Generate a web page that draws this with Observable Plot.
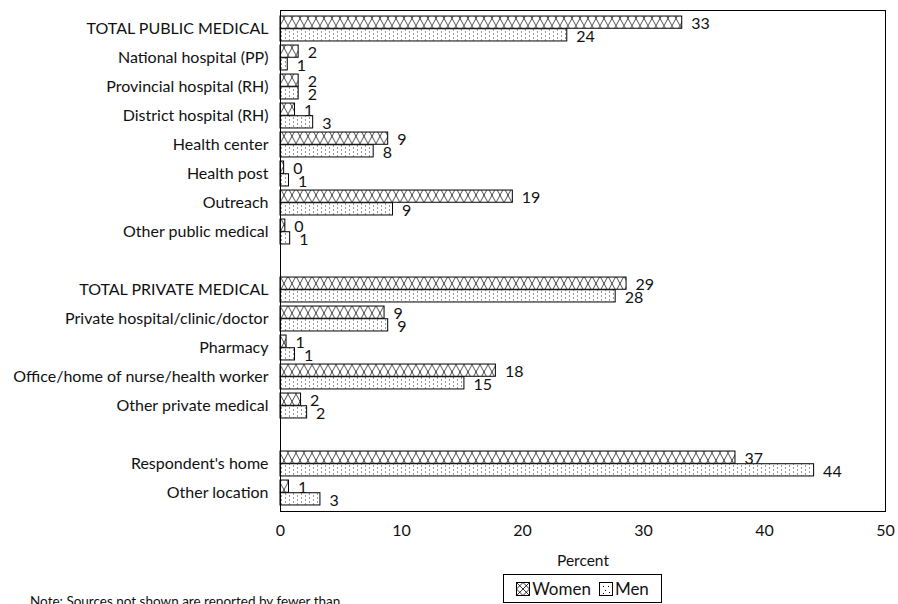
<!DOCTYPE html>
<html>
<head>
<meta charset="utf-8">
<script src="https://cdn.jsdelivr.net/npm/d3@7"></script>
<script src="https://cdn.jsdelivr.net/npm/@observablehq/plot@0.6"></script>
<style>
  html, body { margin: 0; padding: 0; background: #fff; overflow: hidden; }
  #wrap { position: relative; width: 898px; height: 604px; font-family: Lato, "Open Sans", sans-serif; color: #111; }
  #chart svg { display: block; }
  #xlabel { position: absolute; left: 483px; width: 200px; top: 551px; text-align: center; font-size: 15.5px; }
  #legend { position: absolute; left: 503px; top: 574px; width: 157px; height: 27px; border: 1px solid #000;
            display: flex; align-items: center; justify-content: center; font-size: 17px; gap: 0; }
  #legend .item { display: flex; align-items: center; }
  #legend svg { display: block; margin-right: 2px; }
  #note { position: absolute; left: 30px; top: 593px; font-size: 13.5px; white-space: nowrap; }
</style>
</head>
<body>
<div id="wrap">
  <div id="chart"></div>
  <div id="xlabel">Percent</div>
  <div id="legend"></div>
  <div id="note">Note: Sources not shown are reported by fewer than</div>
</div>
<script>
const categories = [
  "TOTAL PUBLIC MEDICAL", "National hospital (PP)", "Provincial hospital (RH)", "District hospital (RH)",
  "Health center", "Health post", "Outreach", "Other public medical", " ",
  "TOTAL PRIVATE MEDICAL", "Private hospital/clinic/doctor", "Pharmacy",
  "Office/home of nurse/health worker", "Other private medical", "  ",
  "Respondent's home", "Other location"
];
const women = [33.2, 1.5, 1.5, 1.2, 8.9, 0.3, 19.2, 0.4, null, 28.6, 8.6, 0.5, 17.8, 1.7, null, 37.6, 0.7];
const men   = [23.7, 0.6, 1.5, 2.7, 7.7, 0.7, 9.3, 0.8, null, 27.7, 8.9, 1.2, 15.2, 2.2, null, 44.1, 3.3];
const womenLabels = ["33", "2", "2", "1", "9", "0", "19", "0", null, "29", "9", "1", "18", "2", null, "37", "1"];
const menLabels   = ["24", "1", "2", "3", "8", "1", "9", "1", null, "28", "9", "1", "15", "2", null, "44", "3"];
const xTicks = [0, 10, 20, 30, 40, 50];
const seriesNames = ["Women", "Men"];

const rows = categories.map((c, i) => ({cat: c, women: women[i], men: men[i], wl: womenLabels[i], ml: menLabels[i]}))
  .filter(d => d.women != null);

const W = 898, H = 548, mTop = 10, mBottom = 37, mLeft = 280, mRight = 13;
const step = (H - mTop - mBottom) / categories.length;
const half = step / 2;
const barH = 12.7;

const plot = Plot.plot({
  width: W, height: H,
  marginTop: mTop, marginBottom: mBottom, marginLeft: mLeft, marginRight: mRight,
  style: {fontFamily: "Lato, 'Open Sans', sans-serif", fontSize: "16px", color: "#111", background: "#fff"},
  x: {domain: [0, 50], ticks: xTicks, tickSize: 0, tickPadding: 13, label: null},
  y: {domain: categories, padding: 0, tickSize: 0, tickPadding: 12, label: null},
  marks: [
    Plot.barX(rows, {x: "women", y: "cat", fill: "url(#pWomen)", stroke: "#000", strokeWidth: 1,
      insetTop: half - barH, insetBottom: half}),
    Plot.barX(rows, {x: "men", y: "cat", fill: "url(#pMen)", stroke: "#000", strokeWidth: 1,
      insetTop: half, insetBottom: half - barH}),
    Plot.text(rows, {x: "women", y: "cat", text: "wl", dx: 9, dy: -barH / 2 + 1, textAnchor: "start", fontSize: 16, fill: "#111"}),
    Plot.text(rows, {x: "men", y: "cat", text: "ml", dx: 9, dy: barH / 2 + 1.5, textAnchor: "start", fontSize: 16, fill: "#111"}),
    Plot.frame({stroke: "#000", strokeWidth: 1})
  ]
});

// patterns
const defs = d3.select(plot).insert("defs", ":first-child");
const pw = defs.append("pattern").attr("id", "pWomen").attr("patternUnits", "userSpaceOnUse")
  .attr("x", 0).attr("y", mTop + 1).attr("width", 8).attr("height", half);
pw.append("rect").attr("width", 8).attr("height", half).attr("fill", "#fff");
pw.append("path").attr("d", `M0,0L8,${half}M8,0L0,${half}`).attr("stroke", "#222").attr("stroke-width", 0.8).attr("fill", "none");
const pm = defs.append("pattern").attr("id", "pMen").attr("patternUnits", "userSpaceOnUse")
  .attr("x", 0).attr("y", mTop + 0.5).attr("width", 8).attr("height", 4);
pm.append("rect").attr("width", 8).attr("height", 4).attr("fill", "#fff");
pm.append("rect").attr("x", 1).attr("y", 1).attr("width", 1).attr("height", 1).attr("fill", "#333");
pm.append("rect").attr("x", 5).attr("y", 3).attr("width", 1).attr("height", 1).attr("fill", "#333");

document.getElementById("chart").appendChild(plot);

// legend
const leg = d3.select("#legend");
seriesNames.forEach((name, i) => {
  const it = leg.append("div").attr("class", "item").style("margin-left", i ? "8px" : "0");
  const s = it.append("svg").attr("width", 14).attr("height", 14);
  if (i === 0) {
    s.append("rect").attr("x", 0.5).attr("y", 0.5).attr("width", 13).attr("height", 13).attr("fill", "#fff").attr("stroke", "#000");
    s.append("path").attr("d", "M0.5,0.5L13.5,13.5M13.5,0.5L0.5,13.5M0.5,7L7,0.5L13.5,7L7,13.5Z").attr("stroke", "#000").attr("fill", "none").attr("stroke-width", 0.8);
  } else {
    s.append("rect").attr("x", 0.5).attr("y", 0.5).attr("width", 13).attr("height", 13).attr("fill", "#fff").attr("stroke", "#000");
    [[4,4],[9,4],[6,8],[4,11],[10,10]].forEach(([x, y]) => s.append("rect").attr("x", x).attr("y", y).attr("width", 1).attr("height", 1).attr("fill", "#000"));
  }
  it.append("span").text(name);
});
</script>
</body>
</html>
